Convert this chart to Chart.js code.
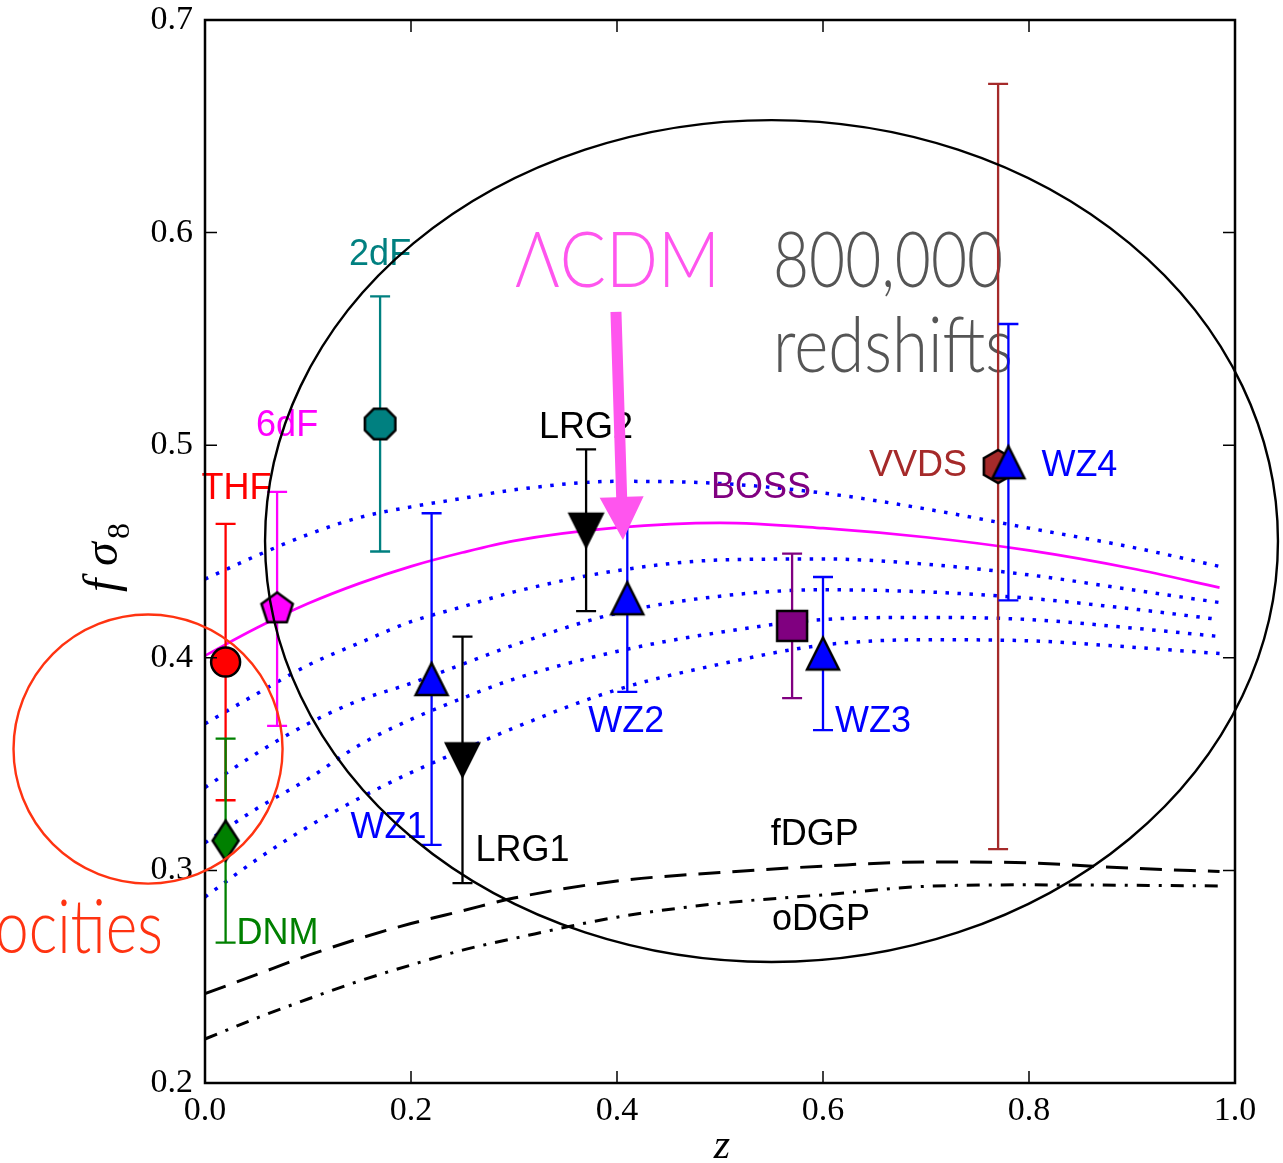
<!DOCTYPE html>
<html><head><meta charset="utf-8">
<script src="https://cdn.jsdelivr.net/npm/chart.js@4.4.0/dist/chart.umd.min.js"></script>
<style>html,body{margin:0;padding:0;background:#fff}#wrap{width:1283px;height:1163px}</style>
</head><body><div id="wrap"><canvas id="c" width="1283" height="1163"></canvas></div>
<script>
// ---------- data ----------
const Z_GRID = [0, 0.05, 0.1, 0.15, 0.2, 0.25, 0.3, 0.4, 0.5, 0.6, 0.7, 0.8, 0.9, 0.985];
const LCDM = [0.401,0.414,0.4255,0.435,0.443,0.4495,0.455,0.4612,0.4635,0.461,0.4567,0.4505,0.442,0.433];
const DOT1 = [0.437,0.448,0.458,0.466,0.471,0.475,0.479,0.483,0.482,0.4775,0.470,0.461,0.452,0.443];
const DOT2 = [0.369,0.383,0.3965,0.407,0.417,0.424,0.431,0.441,0.446,0.4465,0.444,0.439,0.432,0.426];
const DOT3 = [0.339,0.355,0.369,0.380,0.388,0.397,0.406,0.421,0.429,0.432,0.431,0.428,0.423,0.418];
const DOT4 = [0.313,0.329,0.343,0.359,0.371,0.381,0.390,0.403,0.412,0.418,0.419,0.418,0.414,0.410];
const DOT5 = [0.2875,0.305,0.3205,0.334,0.346,0.3566,0.367,0.385,0.397,0.406,0.4085,0.408,0.405,0.402];
const FDGP = [0.242,0.251,0.260,0.268,0.275,0.281,0.287,0.295,0.299,0.302,0.304,0.3035,0.301,0.2995];
const ODGP = [0.2207,0.2305,0.2395,0.248,0.2555,0.2625,0.268,0.278,0.2845,0.2885,0.2925,0.2932,0.293,0.2927];

const SURVEY_NAMES = ['THF','DNM','6dF','2dF','WZ1','LRG1','LRG2','WZ2','BOSS','WZ3','VVDS','WZ4'];
const SURVEY_Z     = [0.02, 0.02, 0.07, 0.17, 0.22, 0.25, 0.37, 0.41, 0.57, 0.60, 0.77, 0.78];
const SURVEY_F     = [0.398,0.314,0.423,0.510,0.390,0.352,0.460,0.428,0.415,0.402,0.490,0.492];
const SURVEY_ERR   = [0.065,0.048,0.055,0.060,0.078,0.058,0.038,0.044,0.034,0.036,0.180,0.065];

const X_TICKS = [0, 0.2, 0.4, 0.6, 0.8, 1.0];
const Y_TICKS = [0.2, 0.3, 0.4, 0.5, 0.6, 0.7];

// ---------- styles ----------
const SURVEY_COLORS = ['#ff0000','#008000','#ff00ff','#008080','#0000ff','#000000','#000000','#0000ff','#800080','#0000ff','#a52a2a','#0000ff'];
const SURVEY_SHAPES = ['circle','thin-d','pent','oct','tri-up','tri-down','tri-down','tri-up','square','tri-up','hex','tri-up'];
const LABEL_OFFSETS = [[11,-173],[52,93],[10,-183],[0,-169],[-43,149],[60,91],[0,-102],[-1,124],[-31,-138],[50,69],[-80,0],[71,4]];

function makeMarker(kind, fill){
  const lw = 2.5, pad = 5;
  let verts, sx, sy;
  const reg = (n, off, R) => { const v=[]; for(let k=0;k<n;k++){const a=(off+360*k/n)*Math.PI/180; v.push([Math.cos(a),Math.sin(a)]);} sx=R; sy=R; return v; };
  if(kind==='tri-up'){ verts=[[0,-1],[1,1],[-1,1]]; sx=16; sy=16; }
  else if(kind==='tri-down'){ verts=[[0,1],[1,-1],[-1,-1]]; sx=16.5; sy=16.5; }
  else if(kind==='pent'){ verts=reg(5,-90,16.5); }
  else if(kind==='oct'){ verts=reg(8,22.5,16.5); }
  else if(kind==='hex'){ verts=reg(6,-90,16.5); }
  else if(kind==='thin-d'){ verts=[[0,-1],[1,0],[0,1],[-1,0]]; sx=13; sy=20; }
  else if(kind==='square'){ verts=[[-1,-1],[1,-1],[1,1],[-1,1]]; sx=15; sy=15; }
  const w = Math.ceil(2*sx+2*pad+6), h = Math.ceil(2*sy+2*pad+6);
  const c = document.createElement('canvas'); c.width=w; c.height=h;
  const g = c.getContext('2d');
  g.beginPath();
  verts.forEach(([vx,vy],i)=>{ const px=w/2+vx*sx, py=h/2+vy*sy; i?g.lineTo(px,py):g.moveTo(px,py); });
  g.closePath(); g.fillStyle=fill; g.fill();
  g.lineWidth=lw; g.lineJoin='miter'; g.miterLimit=4; g.strokeStyle='#000'; g.stroke();
  return c;
}
const SURVEY_STYLES = SURVEY_SHAPES.map((s,i)=> s==='circle' ? 'circle' : makeMarker(s, SURVEY_COLORS[i]));

const curve = (vals) => Z_GRID.map((z,i)=>({x:z, y:vals[i]}));
const SURVEY_INDEX = 0;

// annotation geometry (data coordinates)
const ANN = {
  ellipse:{z:0.55, f:0.4549, rz:0.4917, rf:0.198},
  circle:{z:-0.0553, f:0.3571, rz:0.1306, rf:0.0633},
  arrow:{z0:0.399, f0:0.5627, z1:0.4058, f1:0.4554},
  lcdmText:{z:0.301, f:0.5744},
  numText:{z:0.5515, f:0.5744},
  redText:{z:0.5515, f:0.5344},
  velText:{z:-0.0408, f:0.2611},
  fdgpText:{z:0.592, f:0.3167},
  odgpText:{z:0.598, f:0.2767}
};

const annot = {
  id:'annot',
  beforeDatasetsDraw(chart){
    const {ctx, scales:{x,y}} = chart;
    ctx.save();
    ctx.textAlign='left'; ctx.textBaseline='alphabetic';
    ctx.fillStyle='#ff55ee'; ctx.font='300 77px Lato, "Open Sans", sans-serif';
    ctx.fillText('ΛCDM', x.getPixelForValue(ANN.lcdmText.z), y.getPixelForValue(ANN.lcdmText.f), 205);
    ctx.fillStyle='#555555'; ctx.font='300 76px Lato, "Open Sans", sans-serif';
    ctx.fillText('800,000', x.getPixelForValue(ANN.numText.z), y.getPixelForValue(ANN.numText.f), 230);
    ctx.fillText('redshifts', x.getPixelForValue(ANN.redText.z), y.getPixelForValue(ANN.redText.f), 240);
    // velocities (clipped at left)
    ctx.fillStyle='#ff3311'; ctx.font='300 74px Lato, "Open Sans", sans-serif';
    const wOc = ctx.measureText('ocities').width;
    const sc = 168 / wOc;
    ctx.save();
    ctx.translate(x.getPixelForValue(ANN.velText.z), y.getPixelForValue(ANN.velText.f));
    ctx.scale(sc,1);
    ctx.textAlign='right';
    ctx.fillText('velocities', 0, 0);
    ctx.restore();
    // fDGP / oDGP labels
    ctx.fillStyle='#000'; ctx.font='36px "Liberation Sans", Arial, sans-serif'; ctx.textAlign='center'; ctx.textBaseline='middle';
    ctx.fillText('fDGP', x.getPixelForValue(ANN.fdgpText.z), y.getPixelForValue(ANN.fdgpText.f));
    ctx.fillText('oDGP', x.getPixelForValue(ANN.odgpText.z), y.getPixelForValue(ANN.odgpText.f));
    ctx.restore();
  },
  beforeDatasetDraw(chart, args){
    if(args.index !== SURVEY_INDEX) return;
    const {ctx, scales:{x,y}} = chart;
    ctx.save();
    SURVEY_Z.forEach((z,i)=>{
      const px = x.getPixelForValue(z);
      const yt = y.getPixelForValue(SURVEY_F[i]+SURVEY_ERR[i]);
      const yb = y.getPixelForValue(SURVEY_F[i]-SURVEY_ERR[i]);
      ctx.strokeStyle = SURVEY_COLORS[i]; ctx.lineWidth=2.3;
      ctx.beginPath(); ctx.moveTo(px,yt); ctx.lineTo(px,yb);
      ctx.moveTo(px-10,yt); ctx.lineTo(px+10,yt);
      ctx.moveTo(px-10,yb); ctx.lineTo(px+10,yb);
      ctx.stroke();
    });
    ctx.restore();
  },
  afterDatasetsDraw(chart){
    const {ctx, chartArea:a, scales:{x,y}} = chart;
    ctx.save();
    // survey labels
    ctx.font='36px "Liberation Sans", Arial, sans-serif'; ctx.textAlign='center'; ctx.textBaseline='middle';
    SURVEY_NAMES.forEach((n,i)=>{
      ctx.fillStyle = SURVEY_COLORS[i];
      ctx.fillText(n, x.getPixelForValue(SURVEY_Z[i])+LABEL_OFFSETS[i][0], y.getPixelForValue(SURVEY_F[i])+LABEL_OFFSETS[i][1]);
    });
    // frame
    ctx.strokeStyle='#000'; ctx.lineWidth=2.5;
    ctx.strokeRect(a.left, a.top, a.right-a.left, a.bottom-a.top);
    // inward ticks
    ctx.lineWidth=1.5; ctx.beginPath();
    X_TICKS.forEach(v=>{ const p=x.getPixelForValue(v); ctx.moveTo(p,a.bottom); ctx.lineTo(p,a.bottom-12); ctx.moveTo(p,a.top); ctx.lineTo(p,a.top+12); });
    Y_TICKS.forEach(v=>{ const p=y.getPixelForValue(v); ctx.moveTo(a.left,p); ctx.lineTo(a.left+12,p); ctx.moveTo(a.right,p); ctx.lineTo(a.right-12,p); });
    ctx.stroke();
    // arrow
    const x0=x.getPixelForValue(ANN.arrow.z0), y0=y.getPixelForValue(ANN.arrow.f0);
    const x1=x.getPixelForValue(ANN.arrow.z1), y1=y.getPixelForValue(ANN.arrow.f1);
    const L=Math.hypot(x1-x0,y1-y0), ux=(x1-x0)/L, uy=(y1-y0)/L, nx=-uy, ny=ux;
    const hl=43, hw=22, sw=5.5;
    const bx=x1-ux*hl, by=y1-uy*hl;
    ctx.fillStyle='#ff55ee'; ctx.beginPath();
    ctx.moveTo(x0+nx*sw,y0+ny*sw); ctx.lineTo(bx+nx*sw,by+ny*sw); ctx.lineTo(bx+nx*hw,by+ny*hw);
    ctx.lineTo(x1,y1); ctx.lineTo(bx-nx*hw,by-ny*hw); ctx.lineTo(bx-nx*sw,by-ny*sw); ctx.lineTo(x0-nx*sw,y0-ny*sw);
    ctx.closePath(); ctx.fill();
    // ellipse
    const ecx=x.getPixelForValue(ANN.ellipse.z), ecy=y.getPixelForValue(ANN.ellipse.f);
    const erx=x.getPixelForValue(ANN.ellipse.z+ANN.ellipse.rz)-ecx, ery=ecy-y.getPixelForValue(ANN.ellipse.f+ANN.ellipse.rf);
    ctx.strokeStyle='#000'; ctx.lineWidth=2.4; ctx.beginPath(); ctx.ellipse(ecx,ecy,erx,ery,0,0,Math.PI*2); ctx.stroke();
    // red circle
    const ccx=x.getPixelForValue(ANN.circle.z), ccy=y.getPixelForValue(ANN.circle.f);
    const crx=x.getPixelForValue(ANN.circle.z+ANN.circle.rz)-ccx, cry=ccy-y.getPixelForValue(ANN.circle.f+ANN.circle.rf);
    ctx.strokeStyle='#ff3311'; ctx.lineWidth=2.4; ctx.beginPath(); ctx.ellipse(ccx,ccy,crx,cry,0,0,Math.PI*2); ctx.stroke();
    // axis titles
    ctx.fillStyle='#000'; ctx.textAlign='center'; ctx.textBaseline='alphabetic';
    ctx.font='italic 42px "Liberation Serif", serif';
    ctx.fillText('z', (a.left+a.right)/2+2, a.bottom+75);
    ctx.save();
    ctx.translate(a.left-88, a.top+572);
    ctx.rotate(-Math.PI/2);
    ctx.textAlign='left';
    ctx.font='italic 48px "Liberation Serif", serif';
    ctx.fillText('f', 0, 0);
    ctx.fillText('σ', 26, 0);
    ctx.font='32px "Liberation Serif", serif';
    ctx.fillText('8', 53, 12);
    ctx.restore();
    ctx.restore();
  }
};

const tickFont = {family:'"Liberation Serif", "DejaVu Serif", serif', size:34};
const zeroPad = (s) => { s.paddingTop=0; s.paddingBottom=0; s.paddingLeft=0; s.paddingRight=0; };
const dotted = (d, label) => ({label, data:curve(d), showLine:true, pointRadius:0, borderColor:'#0000ff', borderWidth:3.5, borderDash:[3.5,8.5], order:2, cubicInterpolationMode:'monotone'});

new Chart(document.getElementById('c'), {
  type:'scatter',
  data:{datasets:[
    {label:'surveys', data:SURVEY_Z.map((z,i)=>({x:z,y:SURVEY_F[i]})), order:0,
     pointStyle:SURVEY_STYLES, pointRadius:14.5, pointBackgroundColor:SURVEY_COLORS, pointBorderColor:'#000', pointBorderWidth:2.5},
    dotted(DOT1,'dot1'), dotted(DOT2,'dot2'), dotted(DOT3,'dot3'), dotted(DOT4,'dot4'), dotted(DOT5,'dot5'),
    {label:'fDGP', data:curve(FDGP), showLine:true, pointRadius:0, borderColor:'#000', borderWidth:3, borderDash:[22,12], order:2, cubicInterpolationMode:'monotone'},
    {label:'oDGP', data:curve(ODGP), showLine:true, pointRadius:0, borderColor:'#000', borderWidth:3, borderDash:[13,9,3,9], order:2, cubicInterpolationMode:'monotone'},
    {label:'LCDM', data:curve(LCDM), showLine:true, pointRadius:0, borderColor:'#ff00ff', borderWidth:2.7, order:1, cubicInterpolationMode:'monotone'}
  ]},
  options:{
    responsive:false, animation:false, devicePixelRatio:1, events:[],
    layout:{padding:{top:20,right:48,left:0,bottom:0}},
    plugins:{legend:{display:false}, tooltip:{enabled:false}, title:{display:false}},
    scales:{
      x:{type:'linear', min:0, max:1,
        afterFit(s){ s.height=80; zeroPad(s); },
        afterBuildTicks(s){ s.ticks = X_TICKS.map(v=>({value:v})); },
        grid:{display:false, drawTicks:false}, border:{display:false},
        ticks:{maxRotation:0, autoSkip:false, padding:8, color:'#000', font:tickFont, callback:v=>Number(v).toFixed(1)}},
      y:{type:'linear', min:0.2, max:0.7,
        afterFit(s){ s.width=205; zeroPad(s); },
        afterBuildTicks(s){ s.ticks = Y_TICKS.map(v=>({value:v})); },
        grid:{display:false, drawTicks:false}, border:{display:false},
        ticks:{autoSkip:false, padding:12, color:'#000', font:tickFont, callback:v=>Number(v).toFixed(1)}}
    }
  },
  plugins:[annot]
});
</script></body></html>
